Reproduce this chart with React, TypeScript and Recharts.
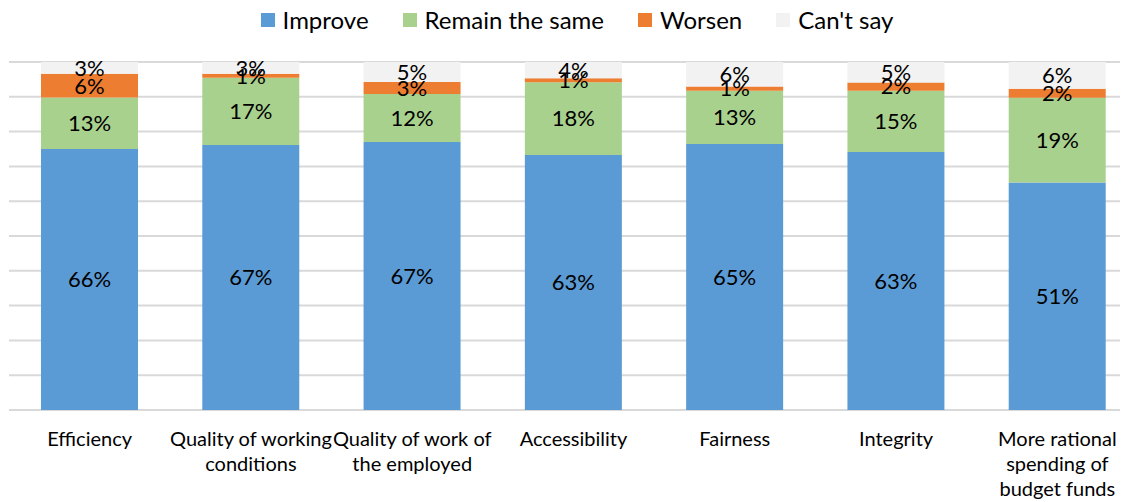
import React from 'react';
import {
  BarChart,
  Bar,
  XAxis,
  YAxis,
  CartesianGrid,
  LabelList
} from "recharts";

// category names, "\n" marks where the label wraps
const categories = [
  "Efficiency",
  "Quality of working\nconditions",
  "Quality of work of\nthe employed",
  "Accessibility",
  "Fairness",
  "Integrity",
  "More rational\nspending of\nbudget funds",
];

const improve = [66, 67, 67, 63, 65, 63, 51];
const remainSame = [13, 17, 12, 18, 13, 15, 19];
const worsen = [6, 1, 3, 1, 1, 2, 2];
const cantSay = [3, 3, 5, 4, 6, 5, 6];

const gridTicks = [0, 0.1, 0.2, 0.3, 0.4, 0.5, 0.6, 0.7, 0.8, 0.9, 1];

const SERIES = [
  { key: "improve", name: "Improve", color: "#5b9bd5" },
  { key: "remainSame", name: "Remain the same", color: "#a9d18e" },
  { key: "worsen", name: "Worsen", color: "#ed7d31" },
  { key: "cantSay", name: "Can't say", color: "#f2f2f2" },
];

const data = categories.map((category, i) => ({
  category,
  improve: improve[i],
  remainSame: remainSame[i],
  worsen: worsen[i],
  cantSay: cantSay[i],
}));

const FONT = "Lato, 'Noto Sans', sans-serif";

const CategoryTick = ({ x, y, payload }: any) => {
  const lines = String(payload.value).split("\n");
  return (
    <text x={x} y={y} textAnchor="middle" fill="#000" fontSize={20} fontFamily={FONT}>
      {lines.map((line, i) => (
        <tspan key={i} x={x} dy={i === 0 ? 36 : 25}>{line}</tspan>
      ))}
    </text>
  );
};

const ChartLegend = () => (
  <div style={{
    position: 'absolute',
    top: -3,
    left: 0,
    width: 1120,
    display: 'flex',
    justifyContent: 'center',
    paddingLeft: 18,
    boxSizing: 'border-box',
    fontFamily: FONT,
    fontSize: 24,
    color: '#000',
    zIndex: 1,
  }}>
    {SERIES.map((s) => (
      <div key={s.key} style={{ display: 'flex', alignItems: 'center', margin: '0 17px' }}>
        <span style={{ width: 14, height: 14, background: s.color, marginRight: 8, display: 'inline-block' }} />
        <span>{s.name}</span>
      </div>
    ))}
  </div>
);

export default function App() {
  return (
    <div style={{ position: 'relative', width: 1120, height: 494 }}>
      <ChartLegend />
      <div style={{ width: 1120, height: 494, overflow: 'hidden' }}>
        <BarChart
          width={1132}
          height={494}
          data={data}
          stackOffset="expand"
          margin={{ top: 54, right: 2, left: 1, bottom: 12 }}
          style={{ fontFamily: FONT }}
        >
          <CartesianGrid vertical={false} stroke="#d9d9d9" strokeWidth={2} />
          <XAxis
            dataKey="category"
            axisLine={false}
            tickLine={false}
            tickSize={0}
            tickMargin={0}
            height={80}
            interval={0}
            tick={<CategoryTick />}
          />
          <YAxis
            type="number"
            domain={[0, 1]}
            ticks={gridTicks}
            width={0}
            tickFormatter={() => ''}
            axisLine={false}
            tickLine={false}
          />
          {SERIES.map((s) => (
            <Bar
              key={s.key}
              dataKey={s.key}
              name={s.name}
              stackId="a"
              fill={s.color}
              barSize={97}
              isAnimationActive={false}
            >
              <LabelList
                dataKey={s.key}
                position="center"
                formatter={(v: any) => `${v}%`}
                fill="#000"
                fontSize={22}
                fontFamily={FONT}
              />
            </Bar>
          ))}
        </BarChart>
      </div>
    </div>
  );
}
